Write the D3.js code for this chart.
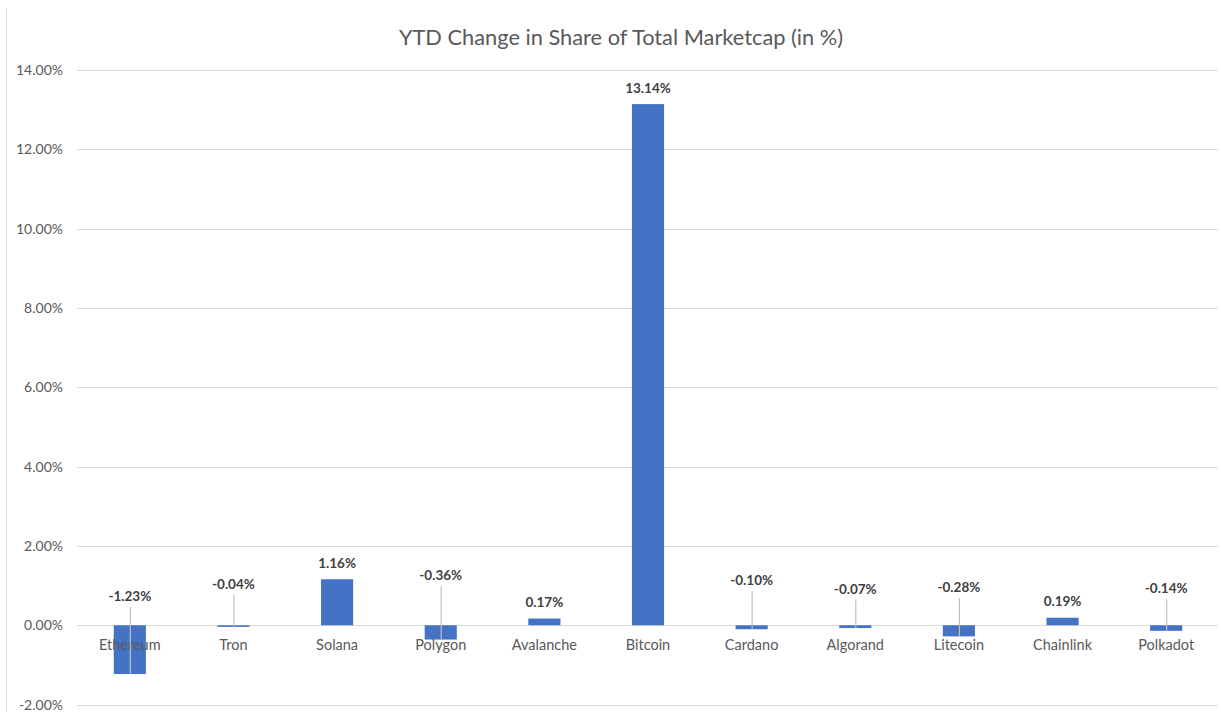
<!DOCTYPE html>
<html>
<head>
<meta charset="utf-8">
<script src="https://cdn.jsdelivr.net/npm/d3@7"></script>
<style>
  html, body { margin: 0; padding: 0; background: #ffffff; }
  svg { display: block; }
  text { font-family: Lato, "Open Sans", sans-serif; }
</style>
</head>
<body>
<svg id="chart" width="1221" height="712"></svg>
<script>
// ---- data ----
const categories = ["Ethereum", "Tron", "Solana", "Polygon", "Avalanche", "Bitcoin", "Cardano", "Algorand", "Litecoin", "Chainlink", "Polkadot"];
const values = [-1.23, -0.04, 1.16, -0.36, 0.17, 13.14, -0.10, -0.07, -0.28, 0.19, -0.14];
const yTicks = [-2, 0, 2, 4, 6, 8, 10, 12, 14];
const title = "YTD Change in Share of Total Marketcap (in %)";

// ---- layout (label placement for negative bars, px above zero line) ----
const negLabelLift = { "Ethereum": 29, "Tron": 41, "Polygon": 50, "Cardano": 45, "Algorand": 36, "Litecoin": 38, "Polkadot": 37 };

const svg = d3.select("#chart");
const W = 1221, H = 712;

// left border line of the original image
svg.append("line").attr("x1", 6.5).attr("x2", 6.5).attr("y1", 8).attr("y2", H)
  .attr("stroke", "#d9d9d9").attr("stroke-width", 1);

const x = d3.scaleBand().domain(categories).range([78, 1218]).paddingInner(0.69).paddingOuter(0.345);
const y = d3.scaleLinear().domain([-2, 14]).range([704.6, 70]);

// gridlines
svg.append("g").selectAll("line").data(yTicks).join("line")
  .attr("x1", 77).attr("x2", 1218)
  .attr("y1", d => Math.round(y(d)) + 0.5).attr("y2", d => Math.round(y(d)) + 0.5)
  .attr("stroke", "#d9d9d9").attr("stroke-width", 1);

// y axis tick labels
svg.append("g").selectAll("text").data(yTicks).join("text")
  .attr("x", 63).attr("y", d => y(d)).attr("dy", "0.35em")
  .attr("text-anchor", "end").attr("font-size", 14).attr("fill", "#595959")
  .text(d => d.toFixed(2) + "%");

// bars
const data = categories.map((c, i) => ({ c, v: values[i] }));
svg.append("g").selectAll("rect").data(data).join("rect")
  .attr("x", d => x(d.c)).attr("width", x.bandwidth())
  .attr("y", d => y(Math.max(0, d.v)))
  .attr("height", d => Math.max(1.5, Math.abs(y(d.v) - y(0))))
  .attr("fill", "#4472c4");

// category labels
svg.append("g").selectAll("text").data(categories).join("text")
  .attr("x", d => x(d) + x.bandwidth() / 2).attr("y", y(0) + 20).attr("dy", "0.35em")
  .attr("text-anchor", "middle").attr("font-size", 14.5).attr("fill", "#595959")
  .text(d => d);

// leader lines for negative bars
const neg = data.filter(d => d.v < 0);
svg.append("g").selectAll("line").data(neg).join("line")
  .attr("x1", d => x(d.c) + x.bandwidth() / 2 + 0.5).attr("x2", d => x(d.c) + x.bandwidth() / 2 + 0.5)
  .attr("y1", d => y(0) - negLabelLift[d.c] + 11)
  .attr("y2", d => y(d.v))
  .attr("stroke", "#bfbfbf").attr("stroke-width", 1.2);

// data labels
svg.append("g").selectAll("text").data(data).join("text")
  .attr("x", d => x(d.c) + x.bandwidth() / 2)
  .attr("y", d => d.v < 0 ? y(0) - negLabelLift[d.c] : y(d.v) - 16)
  .attr("dy", "0.35em")
  .attr("text-anchor", "middle").attr("font-size", 13.5).attr("font-weight", "bold").attr("fill", "#404040")
  .text(d => d.v.toFixed(2) + "%");

// title
svg.append("text").attr("x", 621).attr("y", 37).attr("dy", "0.35em")
  .attr("text-anchor", "middle").attr("font-size", 21.8).attr("fill", "#595959")
  .text(title);
</script>
</body>
</html>
